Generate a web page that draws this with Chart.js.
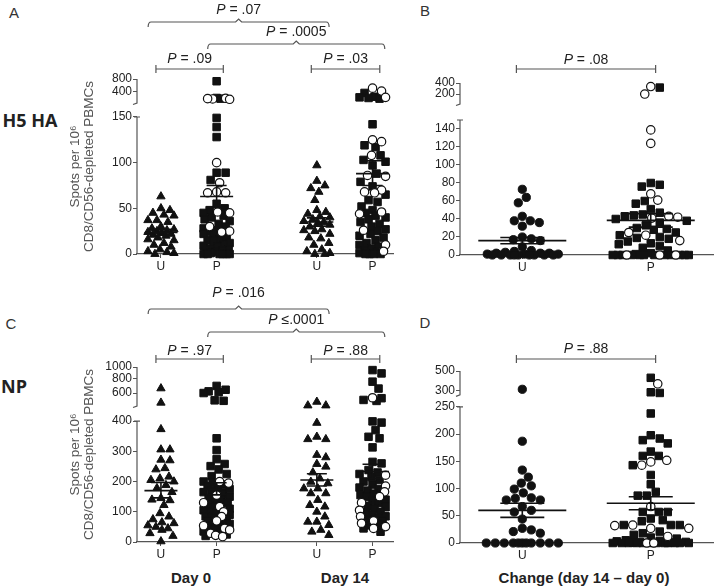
<!DOCTYPE html>
<html>
<head>
<meta charset="utf-8">
<script src="https://cdn.jsdelivr.net/npm/chart.js@4.4.1/dist/chart.umd.min.js"></script>
<style>
  html, body { margin: 0; padding: 0; background: #fff; }
  #wrap { position: relative; width: 720px; height: 588px; overflow: hidden;
          font-family: "Liberation Sans", Arial, sans-serif; color: #222; }
  canvas { position: absolute; }
  .lbl { position: absolute; white-space: nowrap; transform: translate(-50%, -50%); }
</style>
</head>
<body>
<div id="wrap">
  <div class="lbl" style="left:14px;top:12px;font-size:15px;color:#333">A</div>
  <div class="lbl" style="left:425px;top:10px;font-size:15px;color:#333">B</div>
  <div class="lbl" style="left:11px;top:323px;font-size:15px;color:#333">C</div>
  <div class="lbl" style="left:425px;top:322px;font-size:15px;color:#333">D</div>
  <div class="lbl" style="left:30px;top:120px;font:700 18px 'Open Sans',sans-serif">H5 HA</div>
  <div class="lbl" style="left:14px;top:386px;font:700 18px 'Open Sans',sans-serif">NP</div>
  <div class="lbl" style="left:191px;top:577px;font-weight:bold;font-size:15px">Day 0</div>
  <div class="lbl" style="left:345px;top:577px;font-weight:bold;font-size:15px">Day 14</div>
  <div class="lbl" style="left:584px;top:577px;font-weight:bold;font-size:15px">Change (day 14 &ndash; day 0)</div>
  <canvas id="cA" width="400" height="285" style="left:0;top:0"></canvas>
  <canvas id="cB" width="320" height="285" style="left:400px;top:0"></canvas>
  <canvas id="cC" width="400" height="290" style="left:0;top:285px"></canvas>
  <canvas id="cD" width="320" height="290" style="left:400px;top:285px"></canvas>
</div>
<script>
// categories and tick labels
const xAC = [0, 1, 2.8, 3.8];          // U day0, P day0, U day14, P day14
const xBD = [0, 1];                    // U, P (change)
const labAC = ['U', 'P', 'U', 'P'];
const labBD = ['U', 'P'];
const yTicksA = [0, 50, 100, 150, 400, 800];
const yTicksB = [0, 20, 40, 60, 80, 100, 120, 140, 200, 400];
const yTicksC = [0, 100, 200, 300, 400, 600, 800, 1000];
const yTicksD = [0, 50, 100, 150, 200, 250, 300, 500];

// A - H5 HA, spots per 10^6 cells
const aU0 = [63, 50, 48, 45, 43, 42, 37, 37, 35, 30, 28, 27, 26, 25, 24, 23, 22, 21, 20, 18, 16, 15, 12, 10, 8, 5, 3, 2, 1, 0];
const aP0Sq = [710, 290, 280, 149, 139, 128, 89, 89, 81, 55, 50, 48, 45, 42, 40, 38, 36, 33, 30, 28, 26, 24, 22, 20, 18, 16, 15, 14, 12, 10, 9, 8, 6, 5, 4, 3, 2, 1, 0, 0, 0, 0, 0, 0];
const aP0Ci = [285, 275, 280, 270, 100, 78, 68, 67, 67, 46, 45, 30, 25, 24];
const aU14 = [97, 80, 75, 72, 68, 59, 48, 46, 44, 41, 40, 38, 36, 35, 34, 32, 30, 27, 26, 25, 22, 18, 17, 12, 10, 5, 3, 1, 0, 0];
const aP14Sq = [380, 310, 300, 290, 280, 142, 119, 117, 108, 103, 101, 97, 88, 79, 74, 65, 59, 57, 52, 48, 45, 42, 40, 38, 35, 33, 30, 27, 25, 22, 20, 18, 15, 12, 10, 8, 6, 4, 2, 1, 0, 0, 0, 0];
const aP14Ci = [490, 420, 300, 125, 123, 108, 86, 85, 70, 68, 67, 46, 44, 26, 10, 3];
const aMean = [23.5, 63, 35, 88];
const aSemLo = [20.5, 51, 30.5, 75];
const aSemHi = [27, 75, 39.5, 102];

// B - H5 HA change
const bU = [73, 64, 58, 43, 38, 38, 36, 32, 20, 18, 17, 16, 9, 5, 4, 3, 2, 2, 2, 1, 1, 1, 0, 0, 0, 0, 0, 0, 0, 0, 0];
const bPSq = [300, 80, 78, 76, 60, 57, 51, 47, 45, 44, 43, 40, 38, 36, 33, 30, 29, 28, 25, 22, 20, 19, 18, 15, 13, 12, 10, 8, 5, 2, 1, 0, 0, 0, 0, 0, 0, 0, 0, 0, 0, 0, 0];
const bPCi = [320, 200, 139, 124, 68, 61, 43, 42, 41, 25, 22, 16, 0, 0, 0];
const bMean = [16, 38.5];
const bSemLo = [12.5, 31];
const bSemHi = [19.5, 46];

// C - NP
const cU0 = [657, 496, 373, 306, 306, 272, 270, 244, 240, 216, 210, 205, 200, 188, 178, 165, 145, 140, 138, 122, 95, 84, 75, 65, 62, 55, 50, 45, 40, 29, 20, 2];
const cP0Sq = [690, 640, 620, 610, 600, 520, 515, 343, 304, 274, 258, 251, 240, 225, 218, 200, 195, 190, 185, 180, 175, 170, 165, 160, 150, 145, 140, 135, 130, 120, 115, 110, 105, 100, 95, 90, 85, 80, 75, 70, 65, 60, 55, 50, 45, 40, 35, 30, 25, 20];
const cP0Ci = [200, 195, 155, 130, 117, 100, 84, 70, 54, 45, 40, 29, 22, 18];
const cU14 = [505, 470, 470, 394, 348, 340, 340, 288, 280, 258, 249, 230, 210, 199, 194, 177, 177, 161, 161, 139, 122, 117, 100, 84, 67, 67, 56, 40, 34, 23];
const cP14Sq = [941, 882, 750, 655, 542, 524, 514, 399, 395, 370, 348, 343, 313, 265, 260, 238, 230, 225, 215, 205, 200, 190, 180, 175, 170, 160, 155, 150, 140, 135, 130, 120, 115, 110, 100, 95, 90, 85, 80, 75, 70, 60, 55, 45, 34];
const cP14Ci = [547, 221, 185, 166, 150, 130, 105, 84, 70, 62, 51, 45];
const cMean = [170, 175, 205, 233];
const cSemLo = [146, 156, 185, 210];
const cSemHi = [197, 196, 226, 257];

// D - NP change
const dU = [313, 187, 134, 121, 110, 105, 99, 92, 83, 82, 79, 79, 67, 60, 57, 44, 27, 24, 21, 18, 0, 0, 0, 0, 0, 0, 0, 0, 0, 0, 0];
const dPSq = [420, 290, 285, 238, 198, 192, 189, 183, 168, 160, 160, 143, 125, 108, 94, 87, 87, 57, 57, 57, 45, 42, 40, 33, 33, 33, 21, 18, 15, 10, 8, 5, 4, 3, 2, 2, 1, 1, 0, 0, 0, 0, 0, 0, 0, 0, 0, 0, 0, 0];
const dPCi = [360, 152, 149, 143, 67, 33, 32, 27, 27, 12, 0, 0];
const dMean = [60, 73];
const dSemLo = [47, 61];
const dSemHi = [73, 85];

const FONT = '"Liberation Sans", Arial, sans-serif';
const INK = '#111';
const AXIS = '#555';

// point styles
const TRI = { shape: 'triangle', r: 4.8, fill: INK, bw: 1 };
const SQ = { shape: 'rect', r: 5.3, fill: INK, bw: 1 };
const OC = { shape: 'circle', r: 4.2, fill: '#fff', bw: 1.2 };
const DOT = { shape: 'circle', r: 4.1, fill: INK, bw: 1 };

// y scale with a broken axis: linear lower part, log upper part
class BrokenScale extends Chart.LinearScale {
  getPixelForValue(v) {
    const b = this.options.brk;
    let d;
    if (v <= b.lowMax) {
      d = v / b.lowMax * b.split;
    } else {
      const t = Math.log(Math.max(v, b.hiMin) / b.hiMin) / Math.log(b.hiMax / b.hiMin);
      d = b.split + b.gap + t * (1 - b.split - b.gap);
    }
    return this.getPixelForDecimal(d);
  }
  getValueForPixel(px) {
    return this.getDecimalForPixel(px) * this.options.brk.lowMax / this.options.brk.split;
  }
}
BrokenScale.id = 'broken';
BrokenScale.defaults = Chart.LinearScale.defaults;
Chart.register(BrokenScale);

// draws the y axis line in two pieces
const brokenAxis = {
  id: 'brokenAxis',
  beforeDatasetsDraw(chart) {
    const y = chart.scales.y, b = y.options.brk, ctx = chart.ctx;
    const ax = chart.chartArea.left;
    const low = y.getPixelForValue(b.lowMax);
    const hiB = y.getPixelForDecimal(b.split + b.gap);
    ctx.save();
    ctx.strokeStyle = AXIS;
    ctx.lineWidth = 1.2;
    ctx.beginPath();
    ctx.moveTo(ax, y.bottom); ctx.lineTo(ax, low);
    ctx.moveTo(ax - 3, low); ctx.lineTo(ax + 3, low);
    ctx.moveTo(ax, y.top); ctx.lineTo(ax, hiB); ctx.lineTo(ax - 4, hiB + 1.5);
    ctx.stroke();
    ctx.restore();
  }
};

// mean and SEM bars
const meanSem = {
  id: 'meanSem',
  afterDatasetsDraw(chart, args, o) {
    const { ctx, scales: { x, y } } = chart;
    ctx.save();
    ctx.strokeStyle = INK;
    ctx.lineWidth = 1.6;
    o.pos.forEach((c, i) => {
      const cx = x.getPixelForValue(c);
      const m = y.getPixelForValue(o.mean[i]);
      const lo = y.getPixelForValue(o.lo[i]);
      const hi = y.getPixelForValue(o.hi[i]);
      ctx.beginPath();
      ctx.moveTo(cx - o.mw, m); ctx.lineTo(cx + o.mw, m);
      ctx.moveTo(cx - o.sw, lo); ctx.lineTo(cx + o.sw, lo);
      ctx.moveTo(cx - o.sw, hi); ctx.lineTo(cx + o.sw, hi);
      ctx.moveTo(cx, lo); ctx.lineTo(cx, hi);
      ctx.stroke();
    });
    ctx.restore();
  }
};

function pText(ctx, sym, cx, cy) {
  const it = 'italic 14px ' + FONT, rg = '14px ' + FONT;
  ctx.font = it;
  const w1 = ctx.measureText('P').width;
  ctx.font = rg;
  const w2 = ctx.measureText(sym).width;
  const x0 = cx - (w1 + w2) / 2;
  ctx.fillStyle = '#222';
  ctx.textAlign = 'left';
  ctx.textBaseline = 'middle';
  ctx.font = it; ctx.fillText('P', x0, cy);
  ctx.font = rg; ctx.fillText(sym, x0 + w1, cy);
}

// significance brackets above the plot
const brackets = {
  id: 'brackets',
  afterDraw(chart, args, o) {
    const ctx = chart.ctx, x = chart.scales.x;
    ctx.save();
    ctx.strokeStyle = AXIS;
    ctx.lineWidth = 1.2;
    o.items.forEach(b => {
      const x1 = x.getPixelForValue(b.a), x2 = x.getPixelForValue(b.b), cx = (x1 + x2) / 2;
      ctx.beginPath();
      if (b.kind === 'curly') {
        ctx.moveTo(x1, b.y + 5);
        ctx.quadraticCurveTo(x1, b.y, x1 + 3, b.y);
        ctx.lineTo(cx - 3, b.y); ctx.lineTo(cx, b.y - 3); ctx.lineTo(cx + 3, b.y);
        ctx.lineTo(x2 - 3, b.y);
        ctx.quadraticCurveTo(x2, b.y, x2, b.y + 5);
      } else {
        ctx.moveTo(x1, b.y); ctx.lineTo(x2, b.y);
        ctx.moveTo(x1, b.y - 4); ctx.lineTo(x1, b.y + 4);
        ctx.moveTo(x2, b.y - 4); ctx.lineTo(x2, b.y + 4);
      }
      ctx.stroke();
      pText(ctx, b.sym, b.tx !== undefined ? x.getPixelForValue(b.tx) : cx, b.ty);
    });
    ctx.restore();
  }
};

// spread points of each group sideways so they do not sit on top of each other
function swarm(chart, cap, diam) {
  const xs = chart.scales.x, ys = chart.scales.y;
  const unit = xs.getPixelForValue(1) - xs.getPixelForValue(0);
  const groups = {};
  chart.data.datasets.forEach(ds => {
    const g = groups[ds.grp] = groups[ds.grp] || [];
    ds.data.forEach(p => g.push({ p, py: ys.getPixelForValue(p.y) }));
  });
  Object.values(groups).forEach(pts => {
    pts.sort((a, b) => a.py - b.py);
    const placed = [];
    pts.forEach(pt => {
      let best = 0, bestGap = -1;
      for (let k = 0; k <= 2 * cap; k++) {
        const off = (k % 2 ? 1 : -1) * Math.ceil(k / 2);
        let gap = Infinity;
        placed.forEach(q => {
          const d = Math.hypot(q.off - off, q.py - pt.py);
          if (d < gap) gap = d;
        });
        if (gap >= diam) { best = off; break; }
        if (gap > bestGap) { bestGap = gap; best = off; }
      }
      placed.push({ off: best, py: pt.py });
      pt.p.x += best / unit;
    });
  });
  chart.update('none');
}

function panel(id, p) {
  const datasets = [];
  p.groups.forEach((g, gi) => {
    g.forEach(s => datasets.push({
      data: s.values.map(v => ({ x: p.xPos[gi], y: v })),
      grp: gi,
      clip: false,
      pointStyle: s.style.shape,
      pointRadius: s.style.r,
      pointBackgroundColor: s.style.fill,
      pointBorderColor: INK,
      pointBorderWidth: s.style.bw
    }));
  });
  const tickFont = { family: FONT, size: 12 };
  const chart = new Chart(document.getElementById(id), {
    type: 'scatter',
    data: { datasets },
    options: {
      responsive: false,
      animation: false,
      events: [],
      layout: { padding: p.pad },
      plugins: {
        legend: { display: false },
        tooltip: { enabled: false },
        meanSem: { pos: p.xPos, mean: p.mean, lo: p.lo, hi: p.hi, mw: p.mw, sw: p.sw },
        brackets: { items: p.brackets }
      },
      scales: {
        x: {
          type: 'linear', min: p.xMin, max: p.xMax,
          afterBuildTicks: s => { s.ticks = p.xPos.map(v => ({ value: v })); },
          afterFit: s => { s.height = p.xH; },
          ticks: { callback: (v, i) => p.xLabels[i], color: '#222', font: tickFont, padding: 1, autoSkip: false, maxRotation: 0 },
          grid: { drawOnChartArea: false, tickLength: 4, color: AXIS },
          border: { color: AXIS, width: 1.2 }
        },
        y: {
          type: 'broken', min: 0, max: p.brk.hiMax, brk: p.brk,
          afterBuildTicks: s => { s.ticks = p.yTicks.map(v => ({ value: v })); },
          afterFit: s => { s.width = p.yW; },
          ticks: { callback: v => String(v), color: '#222', font: tickFont, padding: 1, autoSkip: false },
          grid: { drawOnChartArea: false, tickLength: 4, color: AXIS },
          border: { display: false },
          title: p.title ? {
            display: true,
            text: ['Spots per 10\u2076', 'CD8/CD56-depleted PBMCs'],
            color: '#555',
            font: { family: FONT, size: 13.5, lineHeight: 1.1 },
            padding: { top: 67.5, bottom: 0 }
          } : { display: false }
        }
      }
    },
    plugins: [brokenAxis, meanSem, brackets]
  });
  swarm(chart, p.cap, p.diam);
  return chart;
}

panel('cA', {
  xPos: xAC, xLabels: labAC, xMin: -0.43, xMax: 4.18, yTicks: yTicksA,
  brk: { lowMax: 150, hiMin: 222, hiMax: 800, split: 0.783, gap: 0.080 },
  groups: [
    [{ values: aU0, style: TRI }],
    [{ values: aP0Ci, style: OC }, { values: aP0Sq, style: SQ }],
    [{ values: aU14, style: TRI }],
    [{ values: aP14Ci, style: OC }, { values: aP14Sq, style: SQ }]
  ],
  mean: aMean, lo: aSemLo, hi: aSemHi, mw: 16.5, sw: 10,
  pad: { top: 79, right: 5, left: 0, bottom: 0 }, yW: 137, xH: 31, title: true,
  cap: 13, diam: 9,
  brackets: [
    { a: -0.23, b: 3.02, y: 22, ty: 10, kind: 'curly', sym: ' = .07' },
    { a: 0.84, b: 4.02, y: 44, ty: 32, kind: 'curly', sym: ' = .0005' },
    { a: -0.09, b: 1.12, y: 69, ty: 59, kind: 'cap', sym: ' = .09' },
    { a: 2.70, b: 3.93, y: 69, ty: 59, kind: 'cap', sym: ' = .03' }
  ]
});

panel('cB', {
  xPos: xBD, xLabels: labBD, xMin: -0.485, xMax: 1.49, yTicks: yTicksB,
  brk: { lowMax: 150, hiMin: 107, hiMax: 400, split: 0.785, gap: 0.093 },
  groups: [
    [{ values: bU, style: DOT }],
    [{ values: bPCi, style: OC }, { values: bPSq, style: SQ }]
  ],
  mean: bMean, lo: bSemLo, hi: bSemHi, mw: 44, sw: 22,
  pad: { top: 83, right: 3, left: 0, bottom: 0 }, yW: 60, xH: 30, title: false,
  cap: 38, diam: 9,
  brackets: [
    { a: -0.046, b: 1.038, y: 69, ty: 60, kind: 'cap', sym: ' = .08' }
  ]
});

panel('cC', {
  xPos: xAC, xLabels: labAC, xMin: -0.43, xMax: 4.18, yTicks: yTicksC,
  brk: { lowMax: 400, hiMin: 465, hiMax: 1000, split: 0.691, gap: 0.086 },
  groups: [
    [{ values: cU0, style: TRI }],
    [{ values: cP0Ci, style: OC }, { values: cP0Sq, style: SQ }],
    [{ values: cU14, style: TRI }],
    [{ values: cP14Ci, style: OC }, { values: cP14Sq, style: SQ }]
  ],
  mean: cMean, lo: cSemLo, hi: cSemHi, mw: 16.5, sw: 10,
  pad: { top: 82, right: 5, left: 0, bottom: 0 }, yW: 137, xH: 33, title: true,
  cap: 13, diam: 9,
  brackets: [
    { a: -0.23, b: 3.02, y: 24, ty: 8, kind: 'curly', sym: ' = .016' },
    { a: 0.84, b: 4.02, y: 47, ty: 35, kind: 'curly', sym: ' \u2264.0001' },
    { a: -0.09, b: 1.12, y: 74, ty: 66, kind: 'cap', sym: ' = .97' },
    { a: 2.70, b: 3.93, y: 74, ty: 66, kind: 'cap', sym: ' = .88' }
  ]
});

panel('cD', {
  xPos: xBD, xLabels: labBD, xMin: -0.485, xMax: 1.49, yTicks: yTicksD,
  brk: { lowMax: 250, hiMin: 271, hiMax: 500, split: 0.791, gap: 0.070 },
  groups: [
    [{ values: dU, style: DOT }],
    [{ values: dPCi, style: OC }, { values: dPSq, style: SQ }]
  ],
  mean: dMean, lo: dSemLo, hi: dSemHi, mw: 44, sw: 22,
  pad: { top: 86, right: 3, left: 0, bottom: 0 }, yW: 60, xH: 32, title: false,
  cap: 38, diam: 9,
  brackets: [
    { a: -0.046, b: 1.038, y: 74, ty: 64, kind: 'cap', sym: ' = .88' }
  ]
});
</script>
</body>
</html>
